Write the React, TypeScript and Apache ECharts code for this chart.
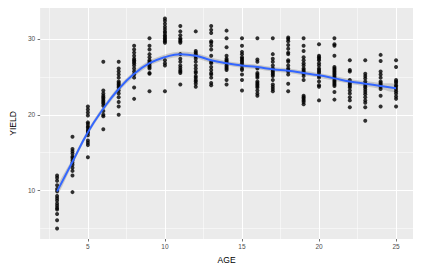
import React, { useEffect, useRef } from "react";
import * as echarts from "echarts";

const ages = [3, 4, 5, 6, 7, 8, 9, 10, 11, 12, 13, 14, 15, 16, 17, 18, 19, 20, 21, 22, 23, 24, 25];

const yieldsByAge: number[][] = [
  [12.0, 11.7, 11.3, 10.7, 10.2, 9.9, 9.3, 9.0, 8.7, 8.3, 8.0, 7.7, 7.5, 6.9, 6.1, 5.0],
  [17.1, 15.5, 15.2, 14.9, 14.5, 14.3, 14.0, 13.7, 13.4, 13.0, 12.6, 12.0, 9.8],
  [21.1, 20.7, 20.3, 19.9, 19.0, 18.8, 18.5, 18.3, 18.0, 17.8, 17.6, 17.3, 16.6, 16.3, 16.0, 14.4],
  [27.0, 23.2, 22.8, 22.5, 22.3, 22.1, 21.9, 21.7, 21.5, 21.2, 20.5, 20.0, 19.8, 18.1],
  [27.0, 26.1, 25.7, 25.3, 24.9, 24.4, 24.2, 24.0, 23.8, 23.6, 23.2, 22.8, 22.3, 21.7, 21.1, 20.0],
  [29.1, 28.6, 28.2, 27.8, 27.4, 27.2, 27.0, 26.8, 26.5, 26.1, 25.7, 25.3, 24.9, 23.6, 22.1],
  [30.1, 29.1, 28.6, 28.0, 27.6, 27.2, 27.0, 26.8, 26.5, 26.3, 26.1, 25.5, 25.4, 23.1],
  [32.7, 32.4, 32.0, 31.6, 31.3, 31.0, 30.8, 30.5, 30.3, 30.1, 29.9, 29.7, 29.5, 27.2, 26.8, 26.5, 23.1],
  [31.7, 31.0, 30.5, 30.1, 29.9, 29.7, 29.5, 28.0, 27.4, 27.0, 26.5, 26.2, 25.9, 25.7, 25.5, 24.0],
  [31.0, 28.4, 28.2, 28.0, 27.7, 27.4, 27.0, 26.5, 26.1, 25.7, 25.5, 25.1, 24.9, 24.6, 24.4, 24.1, 23.7],
  [31.7, 31.2, 30.8, 29.7, 29.5, 29.1, 28.6, 27.8, 27.0, 26.8, 26.3, 25.9, 25.5, 25.3, 24.9, 24.2, 23.9],
  [31.1, 30.1, 28.9, 27.8, 27.4, 27.2, 27.0, 26.8, 26.5, 26.3, 26.1, 25.9, 24.6, 24.0],
  [30.1, 29.1, 28.3, 28.0, 27.6, 27.4, 27.2, 27.0, 26.8, 26.5, 26.1, 25.9, 25.3, 24.6, 23.2],
  [30.1, 27.3, 27.0, 26.1, 25.5, 25.3, 25.1, 24.9, 24.4, 24.2, 24.0, 23.8, 23.6, 23.2, 22.8, 22.5],
  [30.1, 28.0, 27.4, 27.0, 26.5, 26.1, 25.9, 25.7, 25.5, 25.3, 25.1, 24.6, 24.0, 23.7, 23.4, 23.1],
  [30.2, 30.0, 29.7, 29.2, 28.7, 28.2, 28.0, 27.2, 27.0, 26.5, 26.1, 25.9, 25.7, 25.3, 24.1, 23.1],
  [30.1, 29.1, 28.4, 27.6, 27.2, 26.8, 26.5, 26.1, 25.9, 25.7, 25.4, 25.1, 24.6, 22.5, 22.3, 22.1, 21.9, 21.7, 21.4],
  [29.3, 27.8, 27.6, 27.4, 27.2, 26.8, 26.5, 26.1, 25.9, 25.7, 25.5, 25.1, 24.9, 24.4, 23.9, 23.7, 21.9],
  [30.1, 29.3, 29.1, 27.8, 26.3, 26.1, 25.9, 25.7, 25.5, 25.3, 25.1, 24.9, 24.6, 24.4, 24.2, 24.0, 23.8, 23.0, 22.0],
  [27.2, 25.9, 25.7, 24.6, 24.2, 24.0, 23.8, 23.6, 23.2, 22.8, 22.3, 21.9, 21.0],
  [27.2, 25.4, 25.1, 24.8, 24.4, 24.1, 23.8, 23.6, 23.3, 23.0, 22.7, 22.3, 21.9, 21.6, 21.0, 19.2],
  [27.9, 27.1, 25.7, 25.3, 24.9, 24.4, 24.2, 24.0, 23.7, 23.4, 22.5, 21.1],
  [27.2, 26.3, 24.6, 24.4, 24.2, 23.9, 23.7, 23.4, 23.1, 22.8, 22.4, 22.1, 21.1],
];

const fitValues = [9.9, 13.8, 17.7, 20.8, 23.4, 25.4, 26.8, 27.6, 28.0, 27.8, 27.2, 26.8, 26.5, 26.3, 26.0, 25.8, 25.5, 25.2, 24.8, 24.4, 24.1, 23.8, 23.5];
const fitSe = [0.6, 0.4, 0.35, 0.35, 0.35, 0.35, 0.35, 0.35, 0.35, 0.35, 0.35, 0.3, 0.3, 0.3, 0.3, 0.3, 0.3, 0.3, 0.3, 0.3, 0.35, 0.4, 0.5];

export default function App() {
  const ref = useRef<HTMLDivElement>(null);

  useEffect(() => {
    if (!ref.current) return;
    const chart = echarts.init(ref.current, null, { renderer: "svg" });

    const points: number[][] = [];
    ages.forEach((a, i) => yieldsByAge[i].forEach((v) => points.push([a, v])));
    const fit = ages.map((a, i) => [a, fitValues[i]]);

    const font = "Liberation Sans, Arial, sans-serif";
    const allY = yieldsByAge.flat();
    const yMin = Math.min(...allY);
    const yMax = Math.max(...allY);
    const yPad = (yMax - yMin) * 0.05;
    const xPad = (ages[ages.length - 1] - ages[0]) * 0.05;

    const axisCommon = {
      axisLine: { show: false },
      splitLine: { show: true, showMinLine: false, showMaxLine: false, lineStyle: { color: "#ffffff", width: 1.1 } },
      minorTick: { show: false, splitNumber: 2 },
      minorSplitLine: { show: true, lineStyle: { color: "#ffffff", width: 0.5 } },
      axisTick: { show: true, length: 2.5, lineStyle: { color: "#4D4D4D", width: 0.8 } },
    };

    chart.setOption({
      animation: false,
      backgroundColor: "#ffffff",
      grid: {
        left: 30,
        top: 8,
        right: 8,
        bottom: 21.5,
        show: true,
        backgroundColor: "#EBEBEB",
        borderWidth: 0,
      },
      xAxis: {
        type: "value",
        min: ages[0] - xPad,
        max: ages[ages.length - 1] + xPad,
        splitNumber: 5,
        ...axisCommon,
        axisLabel: {
          showMinLabel: false,
          showMaxLabel: false,
          color: "#4D4D4D",
          fontSize: 6.5,
          fontFamily: font,
          margin: 4,
        },
        name: "AGE",
        nameLocation: "middle",
        nameGap: 16,
        nameTextStyle: { color: "#000000", fontSize: 8.5, fontFamily: font },
      },
      yAxis: {
        type: "value",
        min: yMin - yPad,
        max: yMax + yPad,
        splitNumber: 3,
        ...axisCommon,
        axisLabel: {
          showMinLabel: false,
          showMaxLabel: false,
          color: "#4D4D4D",
          fontSize: 6.5,
          fontFamily: font,
          margin: 5,
        },
        name: "YIELD",
        nameLocation: "middle",
        nameRotate: 90,
        nameGap: 18,
        nameTextStyle: { color: "#000000", fontSize: 8.5, fontFamily: font },
      },
      series: [
        {
          type: "scatter",
          data: points,
          symbol: "circle",
          symbolSize: 4,
          itemStyle: { color: "#000000" },
          silent: true,
        },
        {
          type: "custom",
          data: [0],
          silent: true,
          renderItem: (params: any, api: any) => {
            const upper = ages.map((a, i) => api.coord([a, fitValues[i] + fitSe[i]]));
            const lower = ages.map((a, i) => api.coord([a, fitValues[i] - fitSe[i]])).reverse();
            return {
              type: "polygon",
              shape: { points: upper.concat(lower), smooth: 0.3 },
              style: { fill: "rgba(153,153,153,0.45)", stroke: "none" },
            };
          },
        },
        {
          type: "line",
          data: fit,
          smooth: true,
          symbol: "none",
          lineStyle: { color: "#3366FF", width: 2 },
          silent: true,
        },
      ],
    });

    return () => chart.dispose();
  }, []);

  return (
    <div
      ref={ref}
      style={{ position: "fixed", left: 0, top: 0, width: 421, height: 269 }}
    />
  );
}
